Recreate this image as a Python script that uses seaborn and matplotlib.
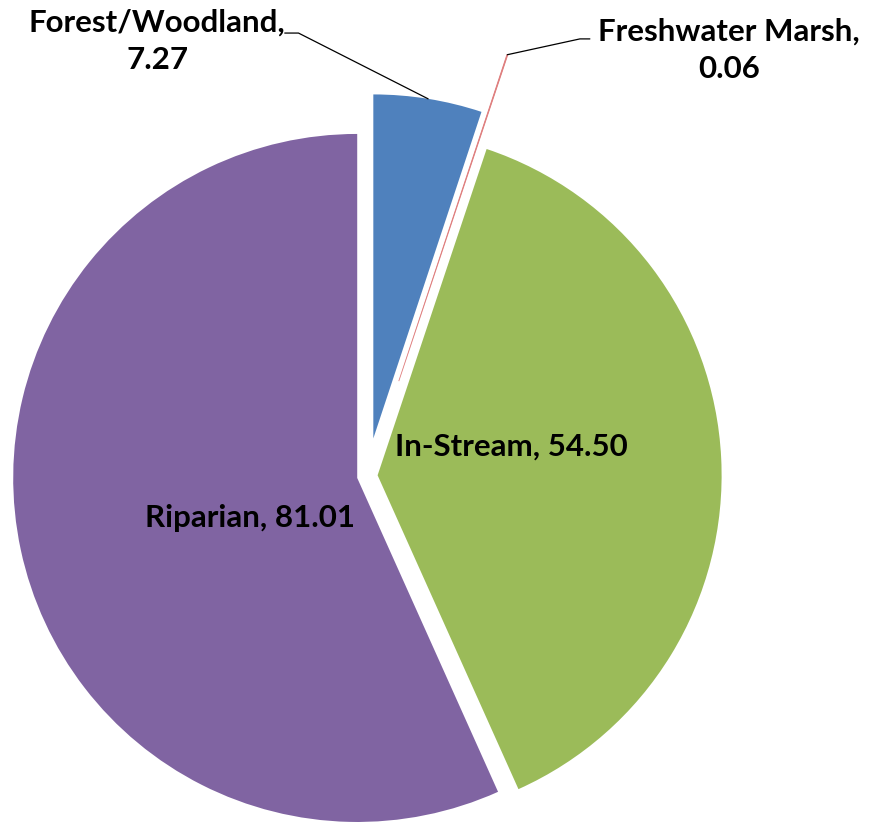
import numpy as np
import matplotlib
matplotlib.use("Agg")
import matplotlib.pyplot as plt
import seaborn as sns

sns.set_theme(style="white")
plt.rcParams['font.family'] = ['Lato', 'DejaVu Sans']

categories = ["Forest/Woodland", "Freshwater Marsh", "In-Stream", "Riparian"]
values = [7.27, 0.06, 54.50, 81.01]
value_labels = ["7.27", "0.06", "54.50", "81.01"]
colors = ["#4F81BD", "#C0504D", "#9BBB59", "#8064A2"]
explode = [0.11, 0.29, 0.03, 0.03]

fig = plt.figure(figsize=(8.69, 8.25), dpi=100)
ax = fig.add_axes([0, 0, 1, 1])
wedges, _ = ax.pie(values, colors=colors, explode=explode, startangle=90,
                   counterclock=False, radius=1.0,
                   wedgeprops=dict(linewidth=0))
wedges[1].set_edgecolor("#E08080")
wedges[1].set_linewidth(0.6)

ax.set_xlim(-1.0677, 1.4584)
ax.set_ylim(-1.0151, 1.3831)
ax.set_aspect('equal')
ax.axis('off')

fs = 22.5
# outside labels with leader lines
label_pos = {0: (-0.611, 1.264), 1: (1.0515, 1.2378)}
elbow = {0: (-0.24, 1.287, -0.20), 1: (0.647, 1.270, 0.618)}
for i, (tx, ty) in label_pos.items():
    w = wedges[i]
    mid = np.deg2rad((w.theta1 + w.theta2) / 2)
    cx, cy = w.center
    ax_pt = (cx + w.r * np.cos(mid), cy + w.r * np.sin(mid))
    ax.text(tx, ty, f"{categories[i]},\n{value_labels[i]}", ha='center', va='center',
            ma='center', fontsize=fs, fontweight='bold', color='black', linespacing=1.4)
    ex, ey, ex2 = elbow[i]
    ax.plot([ex, ex2, ax_pt[0]], [ey, ey, ax_pt[1]], color='black', lw=0.9)

# inside labels
inside_pos = {2: (0.418, 0.0837), 3: (-0.341, -0.1227)}
for i, (tx, ty) in inside_pos.items():
    ax.text(tx, ty, f"{categories[i]}, {value_labels[i]}", ha='center', va='center',
            fontsize=fs, fontweight='bold', color='black')

fig.savefig("out.png", dpi=100)
